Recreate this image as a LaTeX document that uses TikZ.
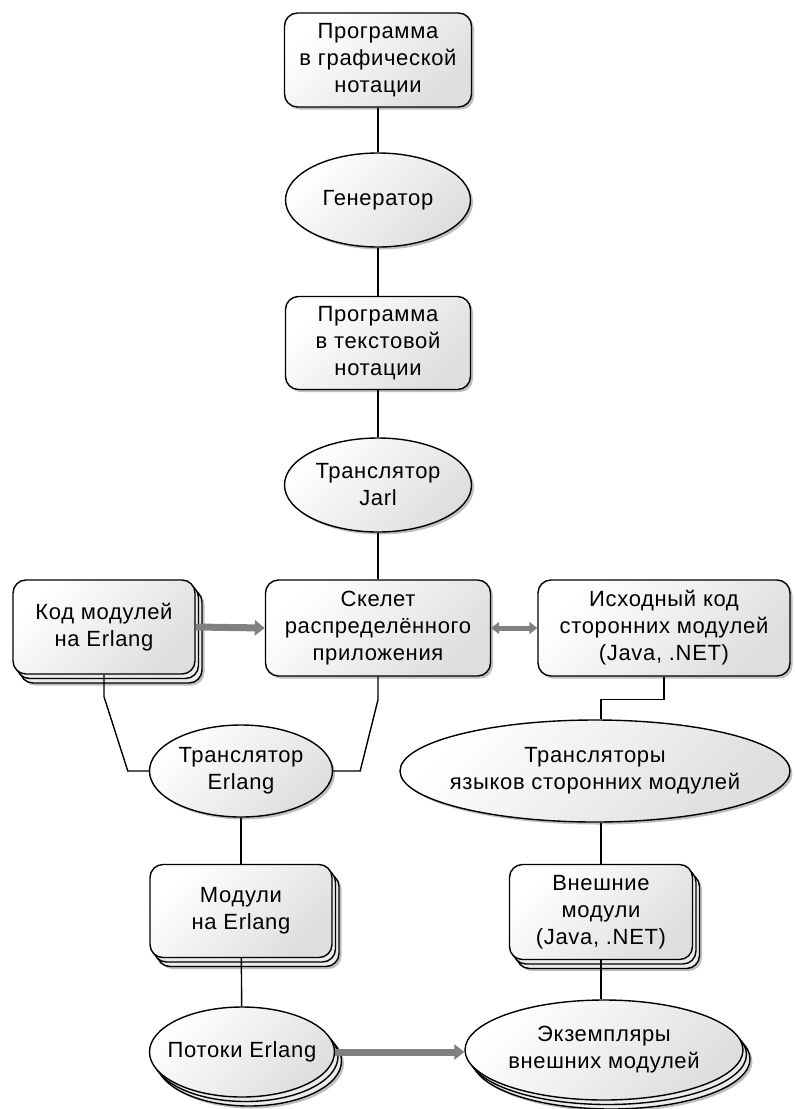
\documentclass[tikz,border=0pt]{standalone}
\usepackage{fontspec}
\setmainfont{Liberation Sans}[LetterSpace=3]
\usetikzlibrary{shapes.geometric,shadows,arrows.meta,calc}

\tikzset{
  base/.style={draw=black, line width=1.4pt,
    top color=white, bottom color=gray!26, shading angle=45,
    font=\fontsize{22}{27}\selectfont, align=center, inner sep=0pt,
    drop shadow={shadow xshift=2.5pt, shadow yshift=-2.5pt, opacity=.25, fill=black}},
  box/.style={base, rectangle, rounded corners=13pt},
  % ellipse size is fixed by the minimum width/height only
  oval/.style={base, ellipse, inner xsep=-60pt, inner ysep=-10pt},
  stacked/.style={
    copy shadow={shadow xshift=9.5pt, shadow yshift=-11.5pt, fill=black, draw=none, opacity=.25},
    copy shadow={shadow xshift=7pt, shadow yshift=-9pt, fill=gray!16, draw=black, line width=1.4pt},
    copy shadow={shadow xshift=3.5pt, shadow yshift=-4.5pt, fill=gray!16, draw=black, line width=1.4pt}},
  link/.style={draw=black, line width=1.4pt},
  fat/.style={draw=black!50, line width=7pt, -{Triangle[length=10pt,width=15pt]}},
  dbl/.style={draw=black!50, line width=5pt,
    {Triangle[length=8pt,width=12pt]}-{Triangle[length=8pt,width=12pt]}},
}

\begin{document}
\begin{tikzpicture}[x=1pt, y=-1pt]
\useasboundingbox (0,0) rectangle (795,1109);

% central chain
\node[box, minimum width=187pt, minimum height=94pt] (p1) at (378,60)
  {Программа\\в графической\\нотации};
\node[oval, minimum width=185pt, minimum height=94pt] (gen) at (378,200)
  {Генератор};
\node[box, minimum width=185pt, minimum height=93pt] (p2) at (378,343)
  {Программа\\в текстовой\\нотации};
\node[oval, minimum width=187pt, minimum height=94pt] (jarl) at (378,485)
  {Транслятор\\Jarl};
\node[box, minimum width=225pt, minimum height=96pt] (skel) at (378,628)
  {Скелет\\распределённого\\приложения};

% left branch
\node[box, stacked, minimum width=182pt, minimum height=94pt] (code) at (104,627)
  {Код модулей\\на Erlang};
\node[oval, minimum width=183pt, minimum height=92pt] (terl) at (241,771)
  {Транслятор\\Erlang};
\node[box, stacked, minimum width=182pt, minimum height=93pt] (mod) at (241,911)
  {Модули\\на Erlang};
\node[oval, stacked, minimum width=185pt, minimum height=90pt] (flows) at (242,1052)
  {Потоки Erlang};

% right branch
\node[box, minimum width=252pt, minimum height=96pt] (src) at (664,628)
  {Исходный код\\сторонних модулей\\(Java, .NET)};
\node[oval, minimum width=390pt, minimum height=102pt] (tr) at (595,771)
  {Трансляторы\\языков сторонних модулей};
\node[box, stacked, minimum width=183pt, minimum height=95pt] (ext) at (601,912)
  {Внешние\\модули\\(Java, .NET)};
\node[oval, stacked, minimum width=278pt, minimum height=100pt] (inst) at (604,1050)
  {Экземпляры\\внешних модулей};

% plain connectors
\draw[link] (p1) -- (gen);
\draw[link] (gen) -- (p2);
\draw[link] (p2) -- (jarl);
\draw[link] (jarl) -- (skel);
\draw[link] (code.south) -- ++(0,22) -- ($(terl.west)+(-21,0)$) -- (terl.west);
\draw[link] (skel.south) -- ++(0,23) -- ($(terl.east)+(27,0)$) -- (terl.east);
\draw[link] (terl) -- (mod);
\draw[link] (mod) -- (flows);
\draw[link] (src.south) -- ++(0,23) -| (tr.north -| ext.north);
\draw[link] (tr.south -| ext.north) -- (ext.north);
\draw[link] (ext.south) -- (ext.south |- inst.north);

% thick grey arrows
\draw[fat] (code.east) -- (skel.west);
\draw[dbl] (skel.east) -- (src.west);
\draw[fat] (flows.east) -- (flows.east -| inst.west);
\end{tikzpicture}
\end{document}
